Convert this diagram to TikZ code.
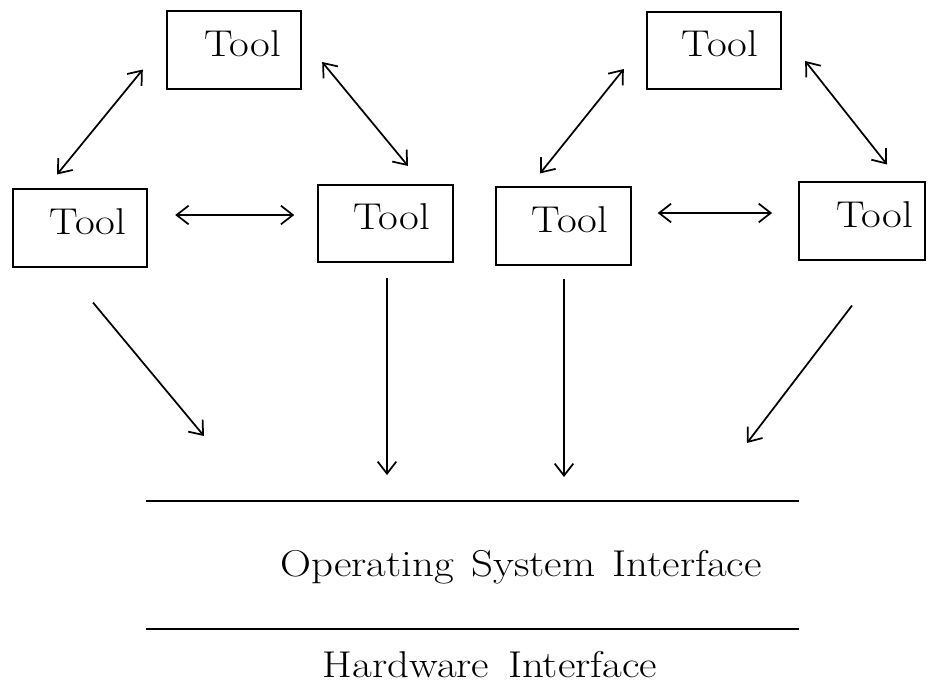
\documentclass[tikz,border=0pt]{standalone}
\usetikzlibrary{arrows.meta,calc}
% slightly widened lettering
\newcommand{\widetext}[1]{\scalebox{1.15}[1]{#1}}
\begin{document}
\begin{tikzpicture}[x=0.75pt,y=-0.75pt,
  every node/.style={font=\fontsize{28}{34}\selectfont},
  toolbox/.style={draw,line width=1.3pt,inner sep=0pt,
    minimum width=101pt,minimum height=58pt,text depth=10pt},
  tip/.tip={Straight Barb[length=9pt,width=14pt]},
  link/.style={line width=1.3pt,tip-tip},
  down/.style={line width=1.3pt,-tip},
  rule/.style={line width=1.3pt},
  lbl/.style={inner sep=0pt}]
\useasboundingbox (0,0) rectangle (928,690);

% upper tool triangles
\node[toolbox] (T1) at (234,50) {\hspace*{13pt}\widetext{Tool}};
\node[toolbox] (T2) at (714,50.5) {\hspace*{9pt}\widetext{Tool}};
% middle row
\node[toolbox] (M1) at (80,228) {\hspace*{12pt}\widetext{Tool}};
\node[toolbox] (M2) at (385.5,223.5) {\hspace*{9pt}\widetext{Tool}};
\node[toolbox] (M3) at (563.5,226) {\hspace*{10pt}\widetext{Tool}};
\node[toolbox,minimum width=94.5pt] (M4) at (862,221) {\hspace*{19pt}\widetext{Tool}};

% links inside the left group
\draw[link] ([shift={(-23,-20)}]T1.south west) -- ([shift={(-23,-14)}]M1.north);
\draw[link] ([shift={(20,12)}]T1.east) -- ([shift={(22.5,-18)}]M2.north);
\draw[link] ([shift={(27,-13)}]M1.east) -- ([shift={(-23,-8.5)}]M2.west);
% links inside the right group
\draw[link] ([shift={(-22,-21)}]T2.south west) -- ([shift={(-23.5,-13)}]M3.north);
\draw[link] ([shift={(23,10.5)}]T2.east) -- ([shift={(25,-17)}]M4.north);
\draw[link] ([shift={(26,-13)}]M3.east) -- ([shift={(-26,-8)}]M4.west);

% calls down to the operating system
\coordinate (g) at (204,436);
\coordinate (h) at (387,475);
\coordinate (i) at (564,477);
\coordinate (j) at (747,443);
\draw[down] ([shift={(13,35)}]M1.south) -- (g);
\draw[down] ([shift={(1.5,15)}]M2.south) -- (h);
\draw[down] ([shift={(0.5,13)}]M3.south) -- (i);
\draw[down] ([shift={(-10,45)}]M4.south) -- (j);

% interface layers
\draw[rule] (146,501) -- (799,501);
\node[lbl] (osi) at (521,567)
  {\widetext{Operating}\hspace{13pt}\widetext{System}\hspace{13pt}\widetext{Interface}};
\draw[rule] (146,629) -- (799,629);
\node[lbl] (hwi) at (490,665) {\widetext{Hardware}\hspace{14pt}\widetext{Interface}};
\end{tikzpicture}
\end{document}
